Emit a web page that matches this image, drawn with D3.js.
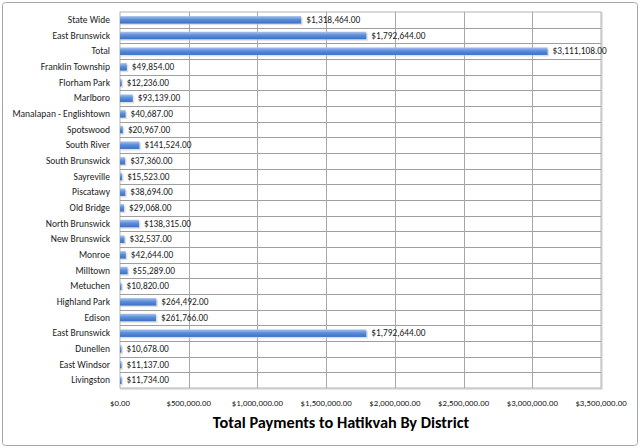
<!DOCTYPE html>
<html>
<head>
<meta charset="utf-8">
<script src="https://cdn.jsdelivr.net/npm/d3@7"></script>
<style>
  body { margin: 0; background: #fff; }
  svg { display: block; font-family: Carlito, Lato, "Liberation Sans", sans-serif; }
</style>
</head>
<body>
<div id="chart"></div>
<script>
// Districts, top to bottom as drawn
const districts = [
  "State Wide", "East Brunswick", "Total", "Franklin Township", "Florham Park",
  "Marlboro", "Manalapan - Englishtown", "Spotswood", "South River",
  "South Brunswick", "Sayreville", "Piscatawy", "Old Bridge", "North Brunswick",
  "New Brunswick", "Monroe", "Milltown", "Metuchen", "Highland Park", "Edison",
  "East Brunswick", "Dunellen", "East Windsor", "Livingston"
];
const payments = [
  1318464, 1792644, 3111108, 49854, 12236,
  93139, 40687, 20967, 141524,
  37360, 15523, 38694, 29068, 138315,
  32537, 42644, 55289, 10820, 264492, 261766,
  1792644, 10678, 11137, 11734
];
const xTicks = [0, 500000, 1000000, 1500000, 2000000, 2500000, 3000000, 3500000];
const title = "Total Payments to Hatikvah By District";

const W = 640, H = 448;
const margin = { top: 12, right: 39, bottom: 60, left: 120 };
const width = W - margin.left - margin.right;
const height = H - margin.top - margin.bottom;

const money = d3.format("$,.2f");

const svg = d3.select("#chart").append("svg")
  .attr("width", W)
  .attr("height", H);

// bar gradient
const defs = svg.append("defs");
const grad = defs.append("linearGradient")
  .attr("id", "barGrad")
  .attr("x1", 0).attr("y1", 0).attr("x2", 0).attr("y2", 1);
grad.append("stop").attr("offset", "0%").attr("stop-color", "#a9c4ec");
grad.append("stop").attr("offset", "45%").attr("stop-color", "#5b8fdc");
grad.append("stop").attr("offset", "100%").attr("stop-color", "#3a6fc4");

// outer chart border
svg.append("rect")
  .attr("x", 2.5).attr("y", 2.5)
  .attr("width", W - 5).attr("height", H - 5)
  .attr("rx", 3)
  .attr("fill", "#fff")
  .attr("stroke", "#a6a6a6");

const g = svg.append("g")
  .attr("transform", `translate(${margin.left},${margin.top})`);

const x = d3.scaleLinear().domain([0, 3500000]).range([0, width]);
const y = d3.scaleBand()
  .domain(districts.map((d, i) => i))
  .range([0, height])
  .paddingInner(0.52)
  .paddingOuter(0.26);

// plot area
g.append("rect")
  .attr("x", 1).attr("y", 1)
  .attr("width", width).attr("height", height)
  .attr("fill", "none")
  .attr("stroke", "#e3e3e3")
  .attr("stroke-width", 2);
g.append("rect")
  .attr("width", width).attr("height", height)
  .attr("fill", "#fff")
  .attr("stroke", "#b3b3b3");

// horizontal lines between categories
const step = y.step();
g.selectAll(".hline")
  .data(districts.slice(1))
  .enter()
  .append("line")
  .attr("class", "hline")
  .attr("x1", 0).attr("x2", width)
  .attr("y1", (d, i) => Math.round(y(i + 1) - y.paddingInner() * step / 2) + 0.5)
  .attr("y2", (d, i) => Math.round(y(i + 1) - y.paddingInner() * step / 2) + 0.5)
  .attr("stroke", "#9f9f9f");

// vertical gridlines
g.selectAll(".vline")
  .data(xTicks.slice(1, -1))
  .enter()
  .append("line")
  .attr("class", "vline")
  .attr("x1", (d) => Math.round(x(d)) + 0.5)
  .attr("x2", (d) => Math.round(x(d)) + 0.5)
  .attr("y1", 0).attr("y2", height)
  .attr("stroke", "#a8a8a8");

// bars (shadow then bar)
g.selectAll(".shadow")
  .data(payments)
  .enter()
  .append("rect")
  .attr("class", "shadow")
  .attr("x", 0)
  .attr("y", (d, i) => y(i) + 1.5)
  .attr("width", (d) => x(d) + 1.5)
  .attr("height", y.bandwidth())
  .attr("fill", "#c9c9c9")
  .attr("opacity", 0.6);

g.selectAll(".bar")
  .data(payments)
  .enter()
  .append("rect")
  .attr("class", "bar")
  .attr("x", 0)
  .attr("y", (d, i) => y(i))
  .attr("width", (d) => x(d))
  .attr("height", y.bandwidth())
  .attr("fill", "url(#barGrad)");

// value labels
g.selectAll(".val")
  .data(payments)
  .enter()
  .append("text")
  .attr("class", "val")
  .attr("x", (d) => x(d) + 5)
  .attr("y", (d, i) => y(i) + y.bandwidth() / 2)
  .attr("dy", "0.35em")
  .style("font-size", "9.3px")
  .attr("fill", "#1a1a1a")
  .text((d) => money(d));

// category axis labels
g.selectAll(".cat")
  .data(districts)
  .enter()
  .append("text")
  .attr("class", "cat")
  .attr("x", -10)
  .attr("y", (d, i) => y(i) + y.bandwidth() / 2)
  .attr("dy", "0.35em")
  .attr("text-anchor", "end")
  .style("font-size", "9.5px")
  .attr("fill", "#1a1a1a")
  .text((d) => d);

// x axis tick labels
g.selectAll(".tick-label")
  .data(xTicks)
  .enter()
  .append("text")
  .attr("class", "tick-label")
  .attr("x", (d) => x(d))
  .attr("y", height + 15)
  .attr("dy", "0.35em")
  .attr("text-anchor", "middle")
  .style("font-size", "8.8px")
  .attr("fill", "#1a1a1a")
  .text((d) => money(d));

// title
svg.append("text")
  .attr("x", 341)
  .attr("y", 428)
  .attr("text-anchor", "middle")
  .style("font-size", "16.3px")
  .style("font-weight", "bold")
  .attr("fill", "#000")
  .text(title);
</script>
</body>
</html>
